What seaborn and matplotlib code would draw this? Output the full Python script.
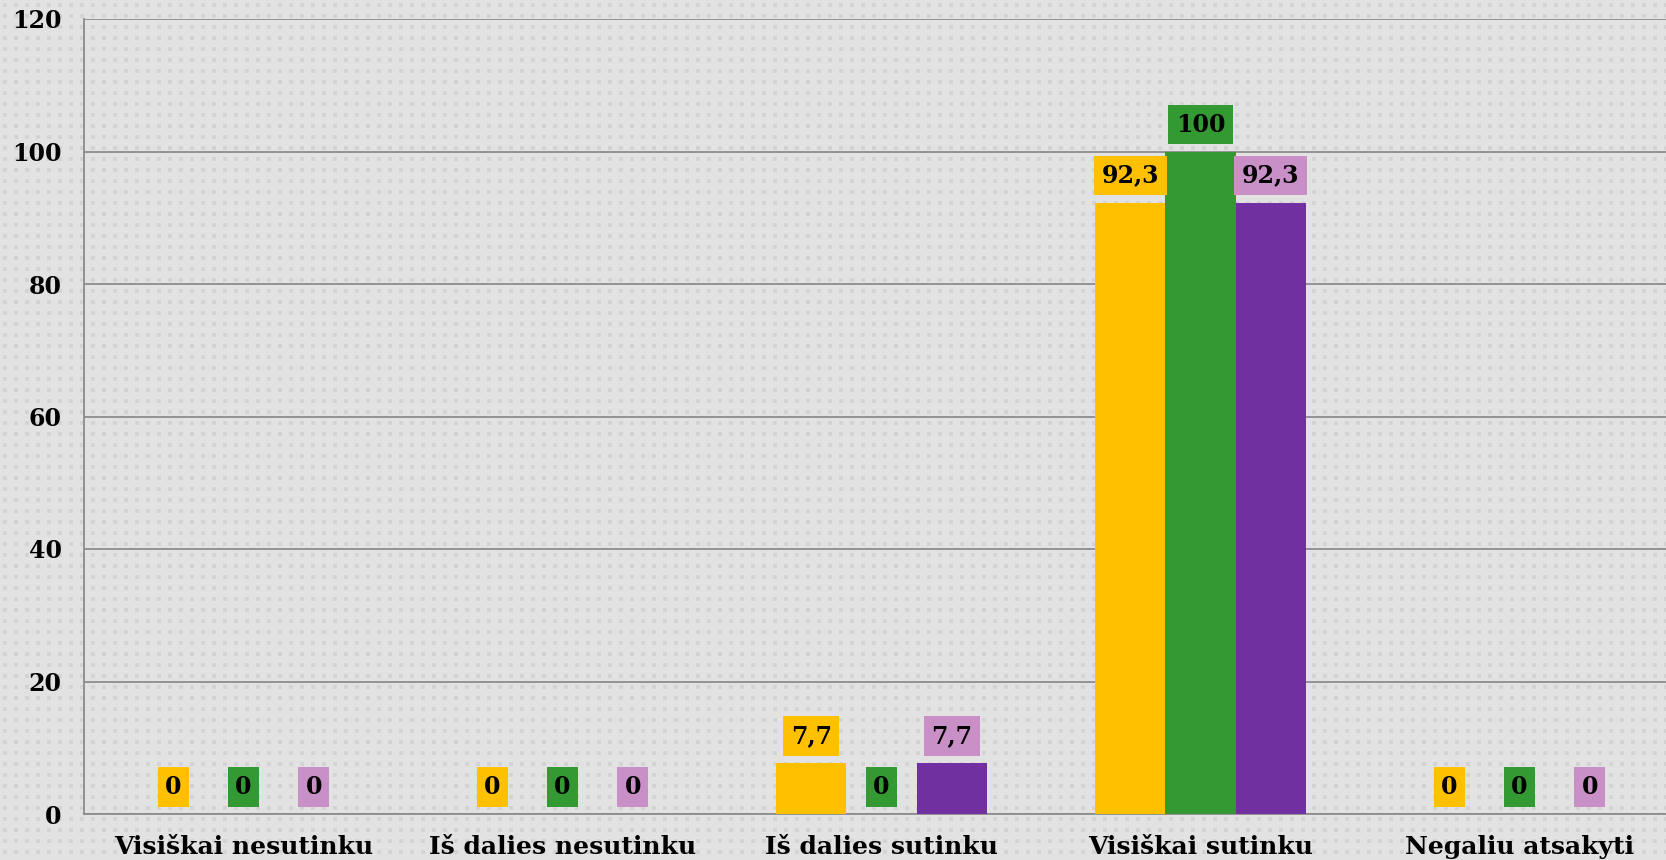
import matplotlib
matplotlib.use("Agg")
import matplotlib.pyplot as plt
import seaborn as sns
import numpy as np
import pandas as pd

# Duomenys
kategorijos = ["Visiškai nesutinku", "Iš dalies nesutinku", "Iš dalies sutinku",
               "Visiškai sutinku", "Negaliu atsakyti"]
serija_1 = [0, 0, 7.7, 92.3, 0]
serija_2 = [0, 0, 0, 100, 0]
serija_3 = [0, 0, 7.7, 92.3, 0]
serijos = ["1", "2", "3"]
y_ticks = [0, 20, 40, 60, 80, 100, 120]

spalvos = ["#FFC000", "#339933", "#7030A0"]
etiketes_spalvos = ["#FFC000", "#339933", "#C990C8"]

df = pd.DataFrame({
    "kategorija": kategorijos * 3,
    "serija": [s for s in serijos for _ in kategorijos],
    "reiksme": serija_1 + serija_2 + serija_3,
})

sns.set_style("white")
plt.rcParams["font.family"] = ["DejaVu Serif"]
plt.rcParams["font.weight"] = "bold"

fig = plt.figure(figsize=(16.66, 8.6), dpi=100)

# taskuotas fonas
h, w = 860, 1666
yy, xx = np.mgrid[0:h, 0:w]
fonas = np.full((h, w), 0.885)
fonas[((xx - 3) % 11 < 4) & ((yy - 3) % 11 < 4)] = 0.83
fig.figimage(fonas, cmap="gray", vmin=0, vmax=1, zorder=-10)

ax = fig.add_axes([84 / 1666, 46 / 860, 1595 / 1666, 795 / 860])
ax.patch.set_alpha(0)

sns.barplot(data=df, x="kategorija", y="reiksme", hue="serija", order=kategorijos,
            palette=spalvos, width=0.66, gap=0, legend=False, ax=ax, zorder=3,
            saturation=1, edgecolor="none", linewidth=0)

ax.set_ylim(0, 120)
ax.set_xlim(-0.5, 4.5)
ax.set_yticks(y_ticks)
ax.set_yticklabels([str(t) for t in y_ticks], fontsize=17, fontweight="bold", color="black")
ax.yaxis.grid(True, color="#8c8c8c", linewidth=1.3, zorder=1)
ax.set_axisbelow(True)

ax.set_xticks(np.arange(-0.5, 5, 1))
ax.set_xticklabels([])
ax.set_xticks(np.arange(5), minor=True)
ax.set_xticklabels(kategorijos, minor=True, fontsize=18, fontweight="bold", color="black")
ax.tick_params(axis="x", which="major", length=6, width=1.3, color="#8c8c8c", direction="out")
ax.tick_params(axis="x", which="minor", length=0, pad=15)
ax.tick_params(axis="y", length=5, width=1.3, color="#8c8c8c", pad=11)
ax.set_xlabel("")
ax.set_ylabel("")

for side in ["top", "right"]:
    ax.spines[side].set_visible(False)
for side in ["left", "bottom"]:
    ax.spines[side].set_color("#8c8c8c")
    ax.spines[side].set_linewidth(1.3)

# Reiksmiu etiketes
for cont, lc in zip(ax.containers, etiketes_spalvos):
    for bar in cont:
        v = bar.get_height()
        tekstas = f"{v:g}".replace(".", ",")
        ax.annotate(tekstas, (bar.get_x() + bar.get_width() / 2, v),
                    xytext=(0, 27), textcoords="offset pixels",
                    ha="center", va="center", fontsize=17, fontweight="bold",
                    color="black", zorder=5,
                    bbox=dict(boxstyle="square,pad=0.32", fc=lc, ec="none"))

fig.savefig("out.png", dpi=100)
